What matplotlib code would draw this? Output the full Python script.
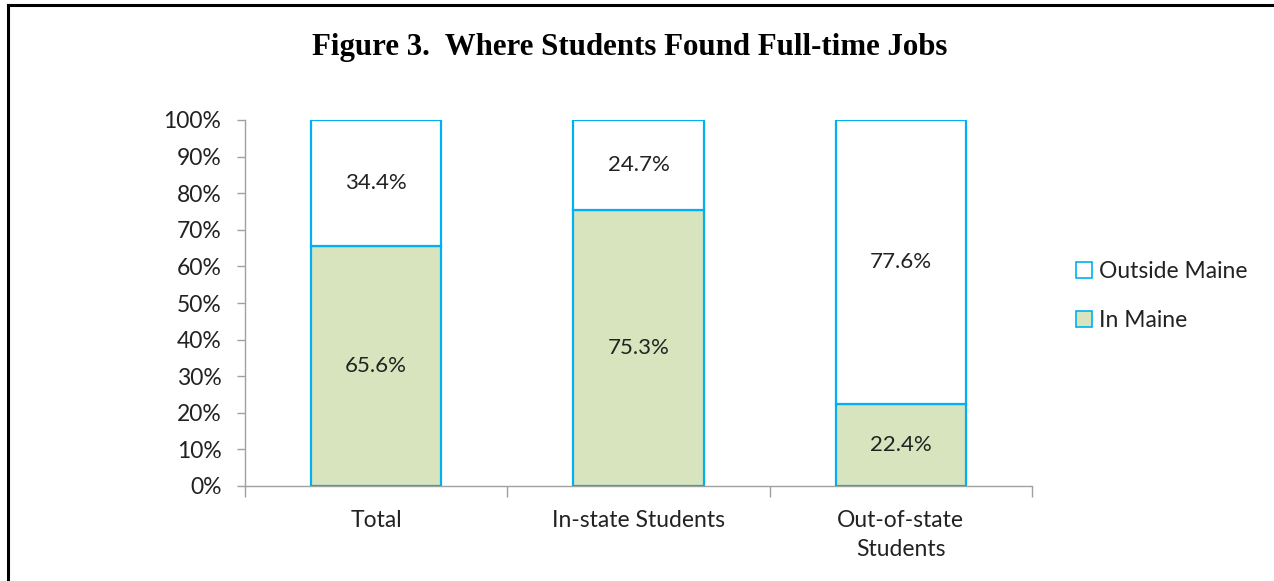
import matplotlib
matplotlib.use("Agg")
import matplotlib.pyplot as plt
from matplotlib.lines import Line2D
from matplotlib.patches import Patch
import numpy as np

categories = ["Total", "In-state Students", "Out-of-state\nStudents"]
in_maine = [65.6, 75.3, 22.4]
outside_maine = [34.4, 24.7, 77.6]
yticks = [0, 10, 20, 30, 40, 50, 60, 70, 80, 90, 100]

W, H = 1274, 581
fig = plt.figure(figsize=(W / 100, H / 100), dpi=100)
ax = fig.add_axes([245 / W, 1 - 486 / H, (1032 - 245) / W, (486 - 120) / H])

label_font = "Lato"
fs = 16.5
edge = "#00B0F0"
green = "#D7E4BD"
x = np.arange(len(categories))
bw = 0.496
ax.bar(x, in_maine, width=bw, color=green, edgecolor=edge, linewidth=1.6, label="In Maine", zorder=3)
ax.bar(x, outside_maine, width=bw, bottom=in_maine, color="white", edgecolor=edge, linewidth=1.6,
       label="Outside Maine", zorder=3)

for i in range(len(categories)):
    ax.text(x[i], in_maine[i] / 2, f"{in_maine[i]:.1f}%", ha="center", va="center",
            fontsize=16, family=label_font, color="#222222", zorder=4)
    ax.text(x[i], in_maine[i] + outside_maine[i] / 2, f"{outside_maine[i]:.1f}%", ha="center", va="center",
            fontsize=16, family=label_font, color="#222222", zorder=4)

ax.set_xlim(-0.5, len(categories) - 0.5)
ax.set_ylim(0, 100)
ax.set_yticks(yticks)
ax.set_yticklabels([f"{v}%" for v in yticks], family=label_font, fontsize=fs, color="#222222")
ax.set_xticks(x)
ax.set_xticklabels(categories, family=label_font, fontsize=fs, color="#222222", linespacing=1.5)
ax.tick_params(axis="x", which="major", length=0, pad=17)
ax.set_xticks(np.arange(-0.5, len(categories), 1.0), minor=True)
ax.tick_params(axis="x", which="minor", length=8, color="#A0A0A0", width=1)
ax.tick_params(axis="y", length=6, color="#A0A0A0", width=1, pad=11)
for s in ["top", "right"]:
    ax.spines[s].set_visible(False)
for s in ["left", "bottom"]:
    ax.spines[s].set_color("#A0A0A0")
    ax.spines[s].set_linewidth(1)

handles = [Patch(facecolor="white", edgecolor=edge, linewidth=1.2, label="Outside Maine"),
           Patch(facecolor=green, edgecolor=edge, linewidth=1.2, label="In Maine")]
leg = fig.legend(handles=handles, loc="center left", bbox_to_anchor=(1055 / W, 1 - 296 / H),
                 frameon=False, handlelength=0.7, handleheight=0.7, handletextpad=0.3,
                 labelspacing=1.2, prop={"family": label_font, "size": fs})
for t in leg.get_texts():
    t.set_color("#222222")

fig.text(630 / W, 1 - 48 / H, "Figure 3.  Where Students Found Full-time Jobs", ha="center", va="center",
         fontsize=22.2, fontweight="bold", family="Liberation Serif")

fig.add_artist(Line2D([8 / W, 1], [1 - 5 / H, 1 - 5 / H], transform=fig.transFigure, color="black", linewidth=2.2))
fig.add_artist(Line2D([8 / W, 8 / W], [0, 1 - 5 / H], transform=fig.transFigure, color="black", linewidth=2.2))

fig.savefig("out.png", dpi=100)
